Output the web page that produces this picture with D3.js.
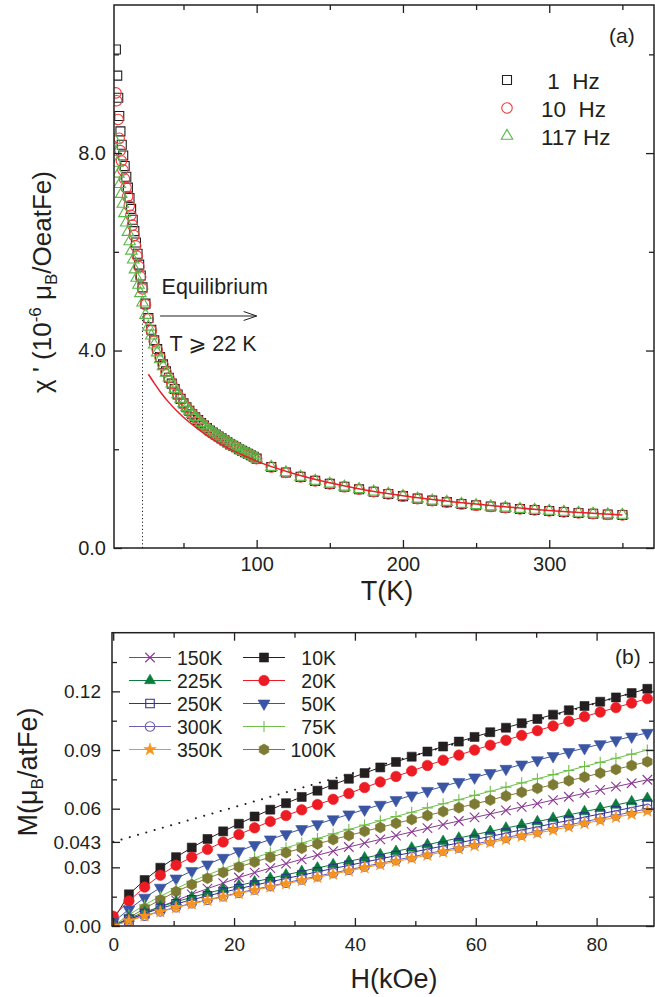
<!DOCTYPE html>
<meta charset="utf-8">
<script src="https://d3js.org/d3.v7.min.js"></script>
<style>
  body { margin: 0; background: #fff; }
  svg text { font-family: "Liberation Sans", Arial, "DejaVu Sans", sans-serif; fill: #231f20; }
</style>
<div id="chart"></div>
<script>

// ---------- panel (a): chi' (10^-6 muB/Oe atFe) vs T (K) ----------
var freqLabels = [" 1  Hz", "10  Hz", "117 Hz"];

var tLow1   = [3.8,4.7,5.4,6.1,6.9,7.8,8.8,9.8,10.9,12.0,13.1,14.2,15.3,16.4,17.5,18.6,19.7,20.8,22,24,26,28,30,32,34,36,38];
var chiLow1 = [10.10,9.57,9.12,8.75,8.44,8.17,7.95,7.74,7.52,7.30,7.09,6.87,6.65,6.42,6.19,5.96,5.74,5.52,5.28,4.95,4.66,4.42,4.21,4.03,3.87,3.72,3.58];

var tLow10   = [3.8,4.3,5.3,6.0,6.7,7.6,8.6,9.6,10.7,11.8,12.9,14.0,15.1,16.2,17.3,18.4,19.5,20.7,22,24,26,28,30,32,34,36,38];
var chiLow10 = [9.22,9.06,8.68,8.30,8.05,7.84,7.66,7.48,7.30,7.12,6.93,6.74,6.54,6.33,6.12,5.91,5.70,5.49,5.25,4.93,4.64,4.40,4.19,4.02,3.86,3.71,3.57];

var tLow117   = [3.1,3.8,4.7,5.5,6.4,7.4,8.5,9.6,10.8,12.0,13.2,14.4,15.6,16.8,18.0,19.2,20.5,22,24,26,28,30,32,34,36,38];
var chiLow117 = [8.26,8.02,7.80,7.58,7.37,7.17,6.97,6.78,6.59,6.40,6.21,6.02,5.84,5.64,5.47,5.33,5.16,4.97,4.72,4.48,4.30,4.12,3.96,3.82,3.68,3.55];

// above ~40 K the three frequencies coincide
var tHigh   = [40,42,44,46,48,50,52,54,56,58,60,62,64,66,68,70,72,74,76,78,80,82,84,86,88,90,92,94,96,98,100,
               110,120,130,140,150,160,170,180,190,200,210,220,230,240,250,260,270,280,290,300,310,320,330,340,350];
var chiHigh = [3.45,3.33,3.22,3.11,3.02,2.93,2.85,2.78,2.71,2.65,2.59,2.53,2.48,2.43,2.38,2.34,2.30,2.26,2.22,2.18,2.14,2.10,2.07,2.04,2.00,1.97,1.94,1.91,1.88,1.85,1.81,
               1.64,1.53,1.44,1.36,1.30,1.24,1.19,1.14,1.095,1.05,1.00,0.96,0.93,0.89,0.865,0.84,0.815,0.79,0.77,0.75,0.73,0.71,0.695,0.68,0.67];

// Curie-Weiss fit (red line)
var fitT   = [26,30,35,40,45,50,60,70,80,90,100,125,150,175,200,250,300,350];
var fitChi = [3.52,3.34,3.13,2.95,2.79,2.65,2.41,2.20,2.03,1.89,1.76,1.51,1.32,1.17,1.06,0.89,0.76,0.67];

var equilT = 22;

// ---------- panel (b): M (muB/atFe) vs H (kOe) ----------
var fieldH = [0,2.6,5.2,7.8,10.4,13,15.6,18.2,20.8,23.4,26,28.6,31.2,33.8,36.4,39,41.6,44.2,46.8,49.4,52,54.6,57.2,59.8,62.4,65,67.6,70.2,72.8,75.4,78,80.6,83.2,85.8,88.4];

var m10K  = [0.003,0.0162,0.0235,0.0298,0.0352,0.0401,0.0445,0.0484,0.0523,0.0560,0.0595,0.0628,0.0660,0.0692,0.0723,0.0753,0.0782,0.0811,0.0839,0.0866,0.0892,0.0918,0.0943,0.0967,0.0991,0.1014,0.1037,0.1059,0.1081,0.1103,0.1125,0.1147,0.1169,0.1191,0.1213];
var m20K  = [0.005,0.0128,0.0199,0.0260,0.0311,0.0352,0.0392,0.0430,0.0468,0.0502,0.0535,0.0565,0.0594,0.0621,0.0648,0.0678,0.0708,0.0737,0.0765,0.0793,0.0821,0.0848,0.0874,0.0900,0.0925,0.0950,0.0975,0.0999,0.1023,0.1047,0.1071,0.1094,0.1117,0.1140,0.1163];
var m50K  = [0.002,0.0085,0.0145,0.0196,0.0243,0.0281,0.0315,0.0349,0.0383,0.0414,0.0443,0.0470,0.0496,0.0521,0.0546,0.0571,0.0596,0.0620,0.0644,0.0668,0.0691,0.0714,0.0737,0.0760,0.0782,0.0804,0.0826,0.0848,0.0869,0.0890,0.0910,0.0930,0.0950,0.0969,0.0988];
var m75K  = [0.0,0.0057,0.0108,0.0152,0.0192,0.0228,0.0261,0.0292,0.0321,0.0349,0.0375,0.0400,0.0424,0.0448,0.0471,0.0494,0.0516,0.0538,0.0560,0.0582,0.0604,0.0625,0.0646,0.0668,0.0689,0.0710,0.0732,0.0753,0.0774,0.0795,0.0816,0.0837,0.0858,0.0879,0.0900];
var m100K = [0.0,0.0042,0.0090,0.0134,0.0176,0.0212,0.0244,0.0274,0.0302,0.0327,0.0352,0.0375,0.0398,0.0420,0.0442,0.0463,0.0484,0.0504,0.0525,0.0545,0.0565,0.0585,0.0605,0.0624,0.0644,0.0665,0.0684,0.0704,0.0723,0.0743,0.0762,0.0782,0.0801,0.0821,0.0840];
var m150K = [0.0,0.0030,0.0064,0.0098,0.0131,0.0162,0.0191,0.0219,0.0248,0.0273,0.0296,0.0319,0.0341,0.0362,0.0383,0.0404,0.0424,0.0443,0.0462,0.0481,0.0500,0.0519,0.0537,0.0555,0.0573,0.0591,0.0609,0.0626,0.0644,0.0661,0.0679,0.0696,0.0713,0.0730,0.0748];
var m225K = [0.0,0.0039,0.0071,0.0099,0.0124,0.0147,0.0168,0.0188,0.0207,0.0226,0.0244,0.0262,0.0279,0.0297,0.0314,0.0331,0.0348,0.0365,0.0382,0.0399,0.0416,0.0433,0.0450,0.0467,0.0484,0.0501,0.0517,0.0534,0.0551,0.0568,0.0585,0.0602,0.0619,0.0636,0.0653];
var m250K = [0.0,0.0034,0.0064,0.0090,0.0113,0.0134,0.0154,0.0173,0.0191,0.0209,0.0226,0.0243,0.0260,0.0277,0.0294,0.0310,0.0327,0.0343,0.0360,0.0376,0.0393,0.0409,0.0425,0.0442,0.0458,0.0475,0.0491,0.0507,0.0524,0.0540,0.0557,0.0573,0.0589,0.0606,0.0622];
var m300K = [0.0,0.0028,0.0053,0.0075,0.0096,0.0116,0.0134,0.0152,0.0170,0.0187,0.0204,0.0221,0.0238,0.0255,0.0271,0.0288,0.0304,0.0321,0.0337,0.0353,0.0370,0.0386,0.0402,0.0419,0.0435,0.0452,0.0468,0.0484,0.0501,0.0517,0.0533,0.0550,0.0566,0.0583,0.0599];
var m350K = [0.0,0.0027,0.0051,0.0073,0.0094,0.0113,0.0131,0.0149,0.0166,0.0183,0.0200,0.0216,0.0233,0.0249,0.0265,0.0282,0.0298,0.0314,0.0330,0.0346,0.0362,0.0379,0.0395,0.0411,0.0427,0.0443,0.0459,0.0475,0.0491,0.0507,0.0524,0.0540,0.0556,0.0572,0.0588];

// high-field linear extrapolation (dotted)
var dotH = [0, 89.5];
var dotM = [0.043, 0.1224];

// ---------------------------------------------------------------
var svg = d3.select("#chart").append("svg").attr("width", 655).attr("height", 997);

var xa = d3.scaleLinear().domain([2.5, 371.6]).range([114, 654]);
var ya = d3.scaleLinear().domain([0, 11]).range([548, 5]);
var xb = d3.scaleLinear().domain([-0.2, 89.5]).range([112, 654]);
var yb = d3.scaleLinear().domain([0, 0.15]).range([926, 632.7]);

function markerPath(shape, s) {
  var h = s / 2, i, pts;
  if (shape === "square") return "M" + (-h) + "," + (-h) + "H" + h + "V" + h + "H" + (-h) + "Z";
  if (shape === "circle") return d3.symbol(d3.symbolCircle, Math.PI * h * h)();
  if (shape === "triUp") return "M0," + (-0.577 * s) + "L" + h + "," + (0.289 * s) + "L" + (-h) + "," + (0.289 * s) + "Z";
  if (shape === "triDown") return "M0," + (0.577 * s) + "L" + h + "," + (-0.289 * s) + "L" + (-h) + "," + (-0.289 * s) + "Z";
  if (shape === "plus") return "M" + (-h) + ",0H" + h + "M0," + (-h) + "V" + h;
  if (shape === "times") return "M" + (-h) + "," + (-h) + "L" + h + "," + h + "M" + (-h) + "," + h + "L" + h + "," + (-h);
  if (shape === "hex") {
    pts = [];
    for (i = 0; i < 6; i++) { var a = Math.PI / 3 * i - Math.PI / 2; pts.push([h * Math.cos(a), h * Math.sin(a)]); }
    return "M" + pts.join("L") + "Z";
  }
  if (shape === "star") return d3.symbol(d3.symbolStar, h * h / 0.8908)();
}

function drawMarkers(g, xs, ys, x, y, shape, s, color, filled, sw) {
  g.selectAll(null).data(d3.zip(xs, ys)).enter().append("path")
    .attr("transform", function(d) { return "translate(" + x(d[0]) + "," + y(d[1]) + ")"; })
    .attr("d", markerPath(shape, s))
    .attr("fill", filled ? color : "none")
    .attr("stroke", color)
    .attr("stroke-width", sw);
}

function drawFrame(g, x, y, o) {
  var xr = x.range(), yr = y.range();
  function ax(axis, tr, vals, len, fmt, pad) {
    var a = g.append("g").attr("transform", tr)
      .call(axis.tickValues(vals).tickSize(-len).tickPadding(pad).tickFormat(fmt));
    a.attr("font-size", null).attr("font-family", null);
    a.select(".domain").remove();
    a.selectAll("line").attr("stroke", "#231f20").attr("stroke-width", 1.3);
    a.selectAll("text").style("font-size", o.fs + "px");
  }
  var none = function() { return ""; };
  ax(d3.axisBottom(x), "translate(0," + yr[0] + ")", o.xMajor, 8, o.xFmt, o.padX);
  ax(d3.axisBottom(x), "translate(0," + yr[0] + ")", o.xMinor, 5, none, 0);
  ax(d3.axisTop(x), "translate(0," + yr[1] + ")", o.xMajor, 8, none, 0);
  ax(d3.axisTop(x), "translate(0," + yr[1] + ")", o.xMinor, 5, none, 0);
  ax(d3.axisLeft(y), "translate(" + xr[0] + ",0)", o.yMajor, 8, o.yFmt, o.padY);
  ax(d3.axisLeft(y), "translate(" + xr[0] + ",0)", o.yMinor, 5, none, 0);
  ax(d3.axisRight(y), "translate(" + xr[1] + ",0)", o.yMajor, 8, none, 0);
  ax(d3.axisRight(y), "translate(" + xr[1] + ",0)", o.yMinor, 5, none, 0);
  g.append("rect").attr("x", xr[0]).attr("y", yr[1])
    .attr("width", xr[1] - xr[0]).attr("height", yr[0] - yr[1])
    .attr("fill", "none").attr("stroke", "#231f20").attr("stroke-width", 1.5);
}

var defs = svg.append("defs");
defs.append("clipPath").attr("id", "clipA").append("rect")
  .attr("x", 114).attr("y", 5).attr("width", 540).attr("height", 543);
defs.append("clipPath").attr("id", "clipB").append("rect")
  .attr("x", 112).attr("y", 632.7).attr("width", 542).attr("height", 293.3);

// ================= panel (a) =================
var gA = svg.append("g");
var dataA = gA.append("g").attr("clip-path", "url(#clipA)");

// dotted line at T = 22 K
dataA.append("line")
  .attr("x1", xa(equilT)).attr("x2", xa(equilT))
  .attr("y1", ya(0)).attr("y2", ya(4.7))
  .attr("stroke", "#231f20").attr("stroke-width", 1).attr("stroke-dasharray", "1.2,2.4");

var seriesA = [
  { t: tLow1.concat(tHigh),   c: chiLow1.concat(chiHigh),   shape: "square", s: 9,   color: "#231f20" },
  { t: tLow10.concat(tHigh),  c: chiLow10.concat(chiHigh),  shape: "circle", s: 10.5, color: "#ef3b3b" },
  { t: tLow117.concat(tHigh), c: chiLow117.concat(chiHigh), shape: "triUp",  s: 11.5, color: "#58b947" }
];
seriesA.forEach(function(sr) {
  drawMarkers(dataA, sr.t, sr.c, xa, ya, sr.shape, sr.s, sr.color, false, 1.1);
});

dataA.append("path")
  .datum(d3.zip(fitT, fitChi))
  .attr("fill", "none").attr("stroke", "#e8202a").attr("stroke-width", 1.5)
  .attr("d", d3.line().curve(d3.curveMonotoneX)
    .x(function(d) { return xa(d[0]); }).y(function(d) { return ya(d[1]); }));

drawFrame(gA, xa, ya, {
  xMajor: [100, 200, 300], xMinor: [50, 150, 250, 350],
  yMajor: [0, 4, 8], yMinor: [2, 6, 10],
  xFmt: d3.format("d"), yFmt: d3.format(".1f"), fs: 20, padX: 9, padY: 8
});

// annotation
gA.append("text").attr("x", xa(35)).attr("y", ya(5.15)).style("font-size", "21.5px").text("Equilibrium");
gA.append("line").attr("x1", xa(34)).attr("x2", xa(100)).attr("y1", ya(4.7)).attr("y2", ya(4.7))
  .attr("stroke", "#231f20").attr("stroke-width", 1);
gA.append("path")
  .attr("d", "M" + (xa(100) - 13) + "," + (ya(4.7) - 4.5) + "L" + xa(100) + "," + ya(4.7) + "L" + (xa(100) - 13) + "," + (ya(4.7) + 4.5))
  .attr("fill", "none").attr("stroke", "#231f20").attr("stroke-width", 1);
gA.append("text").attr("x", xa(40.5)).attr("y", ya(4.0)).style("font-size", "21.5px").text("T \u2A7E 22 K");

// legend (a)
freqLabels.forEach(function(lab, i) {
  var yy = 80 + i * 28;
  gA.append("path").attr("transform", "translate(507," + yy + ")")
    .attr("d", markerPath(seriesA[i].shape, seriesA[i].s))
    .attr("fill", "none").attr("stroke", seriesA[i].color).attr("stroke-width", 1.1);
  gA.append("text").attr("x", 541).attr("y", yy + 8.5)
    .style("font-size", "22.5px").style("white-space", "pre").text(lab);
});
gA.append("text").attr("x", 609).attr("y", 43).style("font-size", "21px").text("(a)");

gA.append("text").attr("x", 387).attr("y", 600).attr("text-anchor", "middle")
  .style("font-size", "27px").text("T(K)");

var tA = gA.append("text").attr("transform", "translate(51,282) rotate(-90)")
  .attr("text-anchor", "middle").style("font-size", "26px");
tA.append("tspan").text("\u03C7 ' (10");
tA.append("tspan").attr("dy", -10).style("font-size", "17px").text("-6");
tA.append("tspan").attr("dy", 10).text(" \u03BC");
tA.append("tspan").attr("dy", 6).style("font-size", "17px").text("B");
tA.append("tspan").attr("dy", -6).text("/OeatFe)");

// ================= panel (b) =================
var gB = svg.append("g");
var dataB = gB.append("g").attr("clip-path", "url(#clipB)");

dataB.append("path")
  .datum(d3.zip(dotH, dotM))
  .attr("fill", "none").attr("stroke", "#231f20").attr("stroke-width", 2)
  .attr("stroke-linecap", "round").attr("stroke-dasharray", "0.1,8.5")
  .attr("d", d3.line().x(function(d) { return xb(d[0]); }).y(function(d) { return yb(d[1]); }));

var seriesB = [
  { name: "10K",  m: m10K,  color: "#231f20", shape: "square",  s: 9,    filled: true },
  { name: "20K",  m: m20K,  color: "#ed1c24", shape: "circle",  s: 10.5, filled: true },
  { name: "50K",  m: m50K,  color: "#3a55a4", shape: "triDown", s: 12,   filled: true },
  { name: "75K",  m: m75K,  color: "#6fbf4a", shape: "plus",    s: 11,   filled: false },
  { name: "100K", m: m100K, color: "#7d7a33", shape: "hex",     s: 11,   filled: true },
  { name: "150K", m: m150K, color: "#8a3a94", shape: "times",   s: 9.5,  filled: false },
  { name: "225K", m: m225K, color: "#0c7b3e", shape: "triUp",   s: 11,   filled: true },
  { name: "250K", m: m250K, color: "#2e3192", shape: "square",  s: 8.5,  filled: false },
  { name: "300K", m: m300K, color: "#6b5fb5", shape: "circle",  s: 9.5,  filled: false },
  { name: "350K", m: m350K, color: "#f7941d", shape: "star",    s: 13,   filled: true }
];

var lineB = d3.line().x(function(d) { return xb(d[0]); }).y(function(d) { return yb(d[1]); });
seriesB.forEach(function(sr) {
  dataB.append("path").datum(d3.zip(fieldH, sr.m))
    .attr("fill", "none").attr("stroke", sr.color).attr("stroke-width", 1).attr("d", lineB);
  drawMarkers(dataB, fieldH, sr.m, xb, yb, sr.shape, sr.s, sr.color, sr.filled, sr.filled ? 0.6 : 1.1);
});

drawFrame(gB, xb, yb, {
  xMajor: [0, 20, 40, 60, 80], xMinor: [10, 30, 50, 70],
  yMajor: [0, 0.03, 0.043, 0.06, 0.09, 0.12], yMinor: [0.015, 0.075, 0.105, 0.135],
  xFmt: d3.format("d"),
  yFmt: function(d) { return d === 0.043 ? "0.043" : d3.format(".2f")(d); },
  fs: 19, padX: 12, padY: 11
});

// legend (b): two columns
var legOrder = ["150K", "225K", "250K", "300K", "350K", "10K", "20K", "50K", "75K", "100K"];
legOrder.forEach(function(name, i) {
  var sr = seriesB.filter(function(s) { return s.name === name; })[0];
  var col = Math.floor(i / 5), row = i % 5;
  var x0 = col === 0 ? 129 : 243, yy = 657.5 + row * 23;
  gB.append("line").attr("x1", x0).attr("x2", x0 + 42).attr("y1", yy).attr("y2", yy)
    .attr("stroke", sr.color).attr("stroke-width", 1.2);
  gB.append("path").attr("transform", "translate(" + (x0 + 21) + "," + yy + ")")
    .attr("d", markerPath(sr.shape, sr.s))
    .attr("fill", sr.filled ? sr.color : "none").attr("stroke", sr.color)
    .attr("stroke-width", sr.filled ? 0.6 : 1.1);
  gB.append("text")
    .attr("x", col === 0 ? 177 : 336).attr("y", yy + 7)
    .attr("text-anchor", col === 0 ? "start" : "end")
    .style("font-size", "19.5px").text(name);
});
gB.append("text").attr("x", 615).attr("y", 664).style("font-size", "21px").text("(b)");

gB.append("text").attr("x", 394).attr("y", 987.5).attr("text-anchor", "middle")
  .style("font-size", "27px").text("H(kOe)");

var tB = gB.append("text").attr("transform", "translate(37,772) rotate(-90)")
  .attr("text-anchor", "middle").style("font-size", "27px");
tB.append("tspan").text("M(\u03BC");
tB.append("tspan").attr("dy", 6).style("font-size", "17px").text("B");
tB.append("tspan").attr("dy", -6).text("/atFe)");

</script>
